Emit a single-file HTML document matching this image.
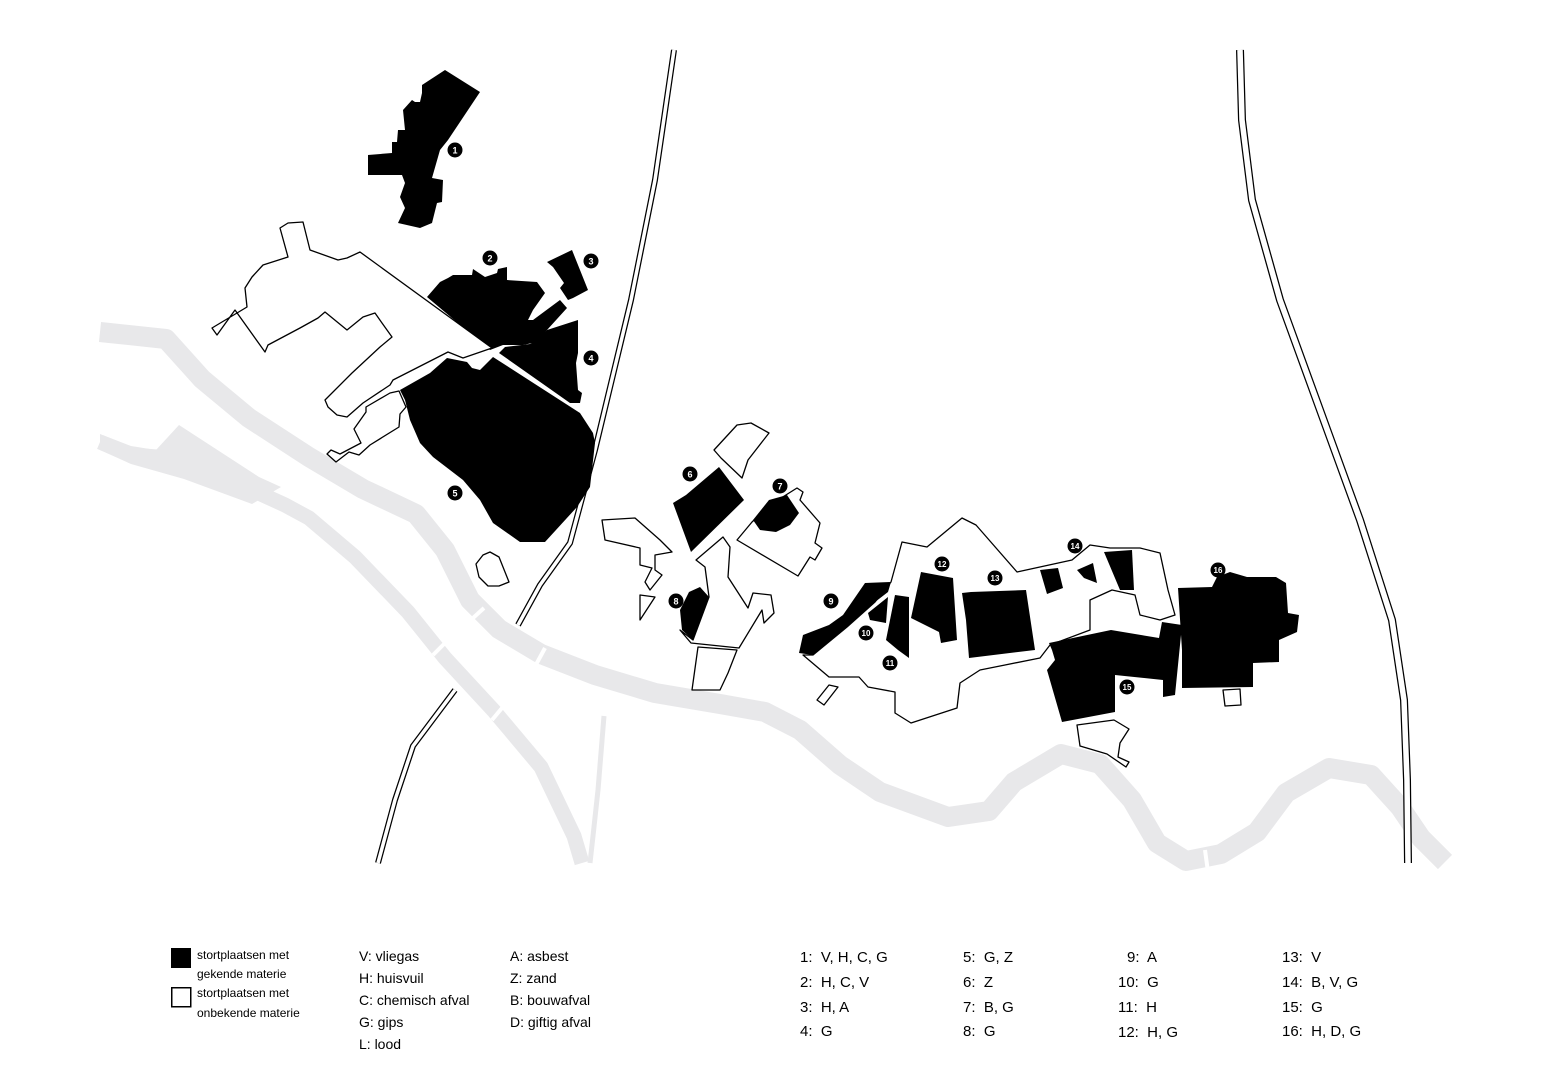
<!DOCTYPE html>
<html><head><meta charset="utf-8"><style>
html,body{margin:0;padding:0;background:#fff;}
svg{display:block;}
text{font-family:"Liberation Sans",sans-serif;white-space:pre;}
</style></head><body>
<svg width="1559" height="1075" viewBox="0 0 1559 1075" xmlns="http://www.w3.org/2000/svg" xml:space="preserve">
<rect width="1559" height="1075" fill="#fff"/>
<g fill="none" stroke="#e8e8ea" stroke-linejoin="round" stroke-linecap="butt">
<polyline stroke-width="20" points="100,332 166,339 202,379 249,418 309,457 363,489 416,514 445,550 470,600 499,629 541,654 595,675 655,693 720,704 765,712 800,730 840,765 880,792 948,817 989,811 1014,782 1061,754 1100,764 1132,800 1157,843 1186,861 1221,854 1257,832 1286,793 1329,768 1371,775 1400,807 1421,838 1445,862"/>
<polyline stroke-width="15" points="100,442 131,455 170,458 252,490 285,505 309,518 355,557 408,612 445,658 494,711 541,767 574,836 582,863"/>
<polyline stroke-width="5" points="604,716 598,790 593,836 590,863"/>
</g>
<polygon fill="#e8e8ea" points="100,434 131,446 156,450 179,425 259,477 281,487 252,504 184,479 131,464 100,450"/>
<g fill="none" stroke-linejoin="round">
<polyline stroke="#000" stroke-width="6" points="674,50 655,180 631,300 595,450 570,543 540,585 518,625"/>
<polyline stroke="#fff" stroke-width="3.5" points="674,50 655,180 631,300 595,450 570,543 540,585 518,625"/>
<polyline stroke="#000" stroke-width="6" points="455,690 413,746 395,800 378,863"/>
<polyline stroke="#fff" stroke-width="3.5" points="455,690 413,746 395,800 378,863"/>
<polyline stroke="#000" stroke-width="8" points="1240,50 1242,120 1252,200 1280,300 1320,410 1360,520 1392,620 1404,700 1407,780 1408,863"/>
<polyline stroke="#fff" stroke-width="5.5" points="1240,50 1242,120 1252,200 1280,300 1320,410 1360,520 1392,620 1404,700 1407,780 1408,863"/>
</g>
<g stroke="#fff" stroke-width="4">
<line x1="462" y1="628" x2="484" y2="608"/>
<line x1="532" y1="672" x2="545" y2="648"/>
<line x1="433" y1="655" x2="446" y2="642"/>
<line x1="492" y1="720" x2="502" y2="708"/>
<line x1="1205" y1="850" x2="1208" y2="872"/>
</g>
<g fill="#000">
<polygon points="445,70 480,92 448,140 440,150 432,178 443,180 442,202 437,203 432,223 420,228 398,223 405,208 400,197 405,183 402,175 368,175 368,155 392,153 392,142 397,142 398,130 405,130 403,110 412,100 415,102 420,102 422,93 422,85"/>
<polygon points="427,297 440,282 448,278 453,275 472,275 473,269 485,277 497,273 498,269 507,267 507,280 537,282 545,293 533,310 528,320 533,320 560,300 567,308 547,330 537,342 523,345 503,345 490,350"/>
<polygon points="547,262 572,250 588,290 573,298 568,300 560,288 564,283 553,267"/>
<polygon points="578,320 578,353 576,363 578,390 582,393 580,403 570,403 499,353 505,347 530,344 537,340 547,330"/>
<polygon points="400,390 430,373 447,358 467,362 472,368 480,370 493,357 580,413 593,433 595,443 590,487 577,507 545,542 520,542 493,523 480,500 463,480 433,457 420,443 410,420 405,400"/>
<polygon points="719,467 744,500 691,552 673,503 686,495"/>
</g>
<g fill="#fff" stroke="#000" stroke-width="1.3" stroke-linejoin="round">
<polygon points="288,223 303,222 310,250 338,260 347,258 360,252 492,348 463,358 448,352 393,380 390,385 363,403 347,417 337,415 328,407 325,400 352,373 380,347 392,337 382,323 375,313 363,317 347,330 325,312 318,318 300,328 268,345 265,352 235,310 217,335 212,328 247,307 245,288 252,277 263,265 288,257 280,228"/>
<polygon points="399,391 406,407 400,414 399,427 370,445 359,455 349,452 336,462 327,454 331,450 340,454 361,443 354,429 366,412 366,407 390,393"/>
<polygon points="490,552 499,557 509,582 499,586 488,586 479,577 476,564 483,555"/>
<polygon points="714,450 737,425 751,423 769,433 748,460 742,478 721,458"/>
<polygon points="602,520 635,518 660,540 672,552 655,555 655,570 662,575 650,590 645,582 652,568 640,565 640,548 605,540"/>
<polygon points="640,595 655,597 640,620"/>
<polygon points="737,540 752,522 770,505 797,488 803,492 800,500 820,523 815,543 822,548 815,560 810,557 798,576"/>
<polygon points="696,560 723,537 730,547 728,577 748,608 753,593 771,595 774,613 764,623 762,610 739,648 691,643 680,630 693,640 709,597 705,567"/>
<polygon points="698,647 737,650 728,673 720,690 692,690"/>
<polygon points="902,542 927,547 962,518 976,525 1017,572 1072,560 1090,545 1110,548 1140,548 1160,553 1168,590 1175,615 1160,620 1140,615 1135,595 1112,590 1090,600 1090,630 1050,645 1040,658 1005,665 980,670 960,683 957,708 911,723 895,713 895,692 868,687 859,677 829,677 803,655 813,655 847,627 875,602 891,582"/>
<polygon points="829,685 838,687 824,705 817,700"/>
<polygon points="1077,725 1114,720 1129,729 1120,743 1118,757 1129,762 1126,767 1107,754 1080,746"/>
<polygon points="1223,690 1240,689 1241,705 1225,706"/>
</g>
<g fill="#000">
<polygon points="700,587 709,597 693,640 682,630 680,610 689,592"/>
<polygon points="799,653 803,635 829,625 843,615 865,583 891,582 888,592 875,602 847,627 813,655"/>
<polygon points="868,613 888,597 886,623 870,620"/>
<polygon points="895,595 909,597 909,658 898,650 886,640"/>
<polygon points="921,572 953,578 957,640 941,643 939,632 911,618"/>
<polygon points="962,593 971,592 1026,590 1035,650 969,658 966,620"/>
<polygon points="1040,570 1058,568 1063,588 1047,594"/>
<polygon points="1077,570 1093,563 1097,583 1084,578"/>
<polygon points="1104,552 1132,550 1134,590 1120,590"/>
<polygon points="1049,643 1111,630 1159,638 1162,622 1182,625 1175,695 1163,697 1163,680 1115,675 1115,712 1062,722 1047,670 1055,660 1052,650"/>
<polygon points="1178,588 1212,587 1217,577 1230,572 1247,577 1276,577 1286,583 1288,613 1299,615 1297,632 1279,640 1279,662 1253,663 1253,687 1182,688 1182,650"/>
<polygon points="753,520 769,500 787,495 799,513 790,525 776,532 760,530"/>
</g>
<g font-size="9" font-weight="bold" text-anchor="middle" fill="#fff">
<g><circle cx="455" cy="150" r="7.5" fill="#000"/><text x="455" y="153.5">1</text></g>
<g><circle cx="490" cy="258" r="7.5" fill="#000"/><text x="490" y="261.5">2</text></g>
<g><circle cx="591" cy="261" r="7.5" fill="#000"/><text x="591" y="264.5">3</text></g>
<g><circle cx="591" cy="358" r="7.5" fill="#000"/><text x="591" y="361.5">4</text></g>
<g><circle cx="455" cy="493" r="7.5" fill="#000"/><text x="455" y="496.5">5</text></g>
<g><circle cx="690" cy="474" r="7.5" fill="#000"/><text x="690" y="477.5">6</text></g>
<g><circle cx="780" cy="486" r="7.5" fill="#000"/><text x="780" y="489.5">7</text></g>
<g><circle cx="676" cy="601" r="7.5" fill="#000"/><text x="676" y="604.5">8</text></g>
<g><circle cx="831" cy="601" r="7.5" fill="#000"/><text x="831" y="604.5">9</text></g>
<g font-size="8"><circle cx="866" cy="633" r="7.5" fill="#000"/><text x="866" y="636">10</text></g>
<g font-size="8"><circle cx="890" cy="663" r="7.5" fill="#000"/><text x="890" y="666">11</text></g>
<g font-size="8"><circle cx="942" cy="564" r="7.5" fill="#000"/><text x="942" y="567">12</text></g>
<g font-size="8"><circle cx="995" cy="578" r="7.5" fill="#000"/><text x="995" y="581">13</text></g>
<g font-size="8"><circle cx="1075" cy="546" r="7.5" fill="#000"/><text x="1075" y="549">14</text></g>
<g font-size="8"><circle cx="1127" cy="687" r="7.5" fill="#000"/><text x="1127" y="690">15</text></g>
<g font-size="8"><circle cx="1218" cy="570" r="7.5" fill="#000"/><text x="1218" y="573">16</text></g>
</g>
<rect x="171" y="948" width="20" height="20" fill="#000"/>
<rect x="171.75" y="987.75" width="19" height="19" fill="#fff" stroke="#000" stroke-width="1.5"/>
<g font-size="12" fill="#000">
<text x="197" y="959">stortplaatsen met</text>
<text x="197" y="978">gekende materie</text>
<text x="197" y="997">stortplaatsen met</text>
<text x="197" y="1017">onbekende materie</text>
</g>
<g font-size="14" fill="#000">
<text x="359" y="961">V: vliegas</text>
<text x="359" y="983">H: huisvuil</text>
<text x="359" y="1005">C: chemisch afval</text>
<text x="359" y="1027">G: gips</text>
<text x="359" y="1049">L: lood</text>
<text x="510" y="961">A: asbest</text>
<text x="510" y="983">Z: zand</text>
<text x="510" y="1005">B: bouwafval</text>
<text x="510" y="1027">D: giftig afval</text>
</g>
<g font-size="15" fill="#000">
<text x="800" y="962">1:  V, H, C, G</text>
<text x="800" y="987">2:  H, C, V</text>
<text x="800" y="1012">3:  H, A</text>
<text x="800" y="1036">4:  G</text>
<text x="963" y="962">5:  G, Z</text>
<text x="963" y="987">6:  Z</text>
<text x="963" y="1012">7:  B, G</text>
<text x="963" y="1036">8:  G</text>
<text x="1127" y="962">9:  A</text>
<text x="1118" y="987">10:  G</text>
<text x="1118" y="1012">11:  H</text>
<text x="1118" y="1037">12:  H, G</text>
<text x="1282" y="962">13:  V</text>
<text x="1282" y="987">14:  B, V, G</text>
<text x="1282" y="1012">15:  G</text>
<text x="1282" y="1036">16:  H, D, G</text>
</g>
</svg>
</body></html>
